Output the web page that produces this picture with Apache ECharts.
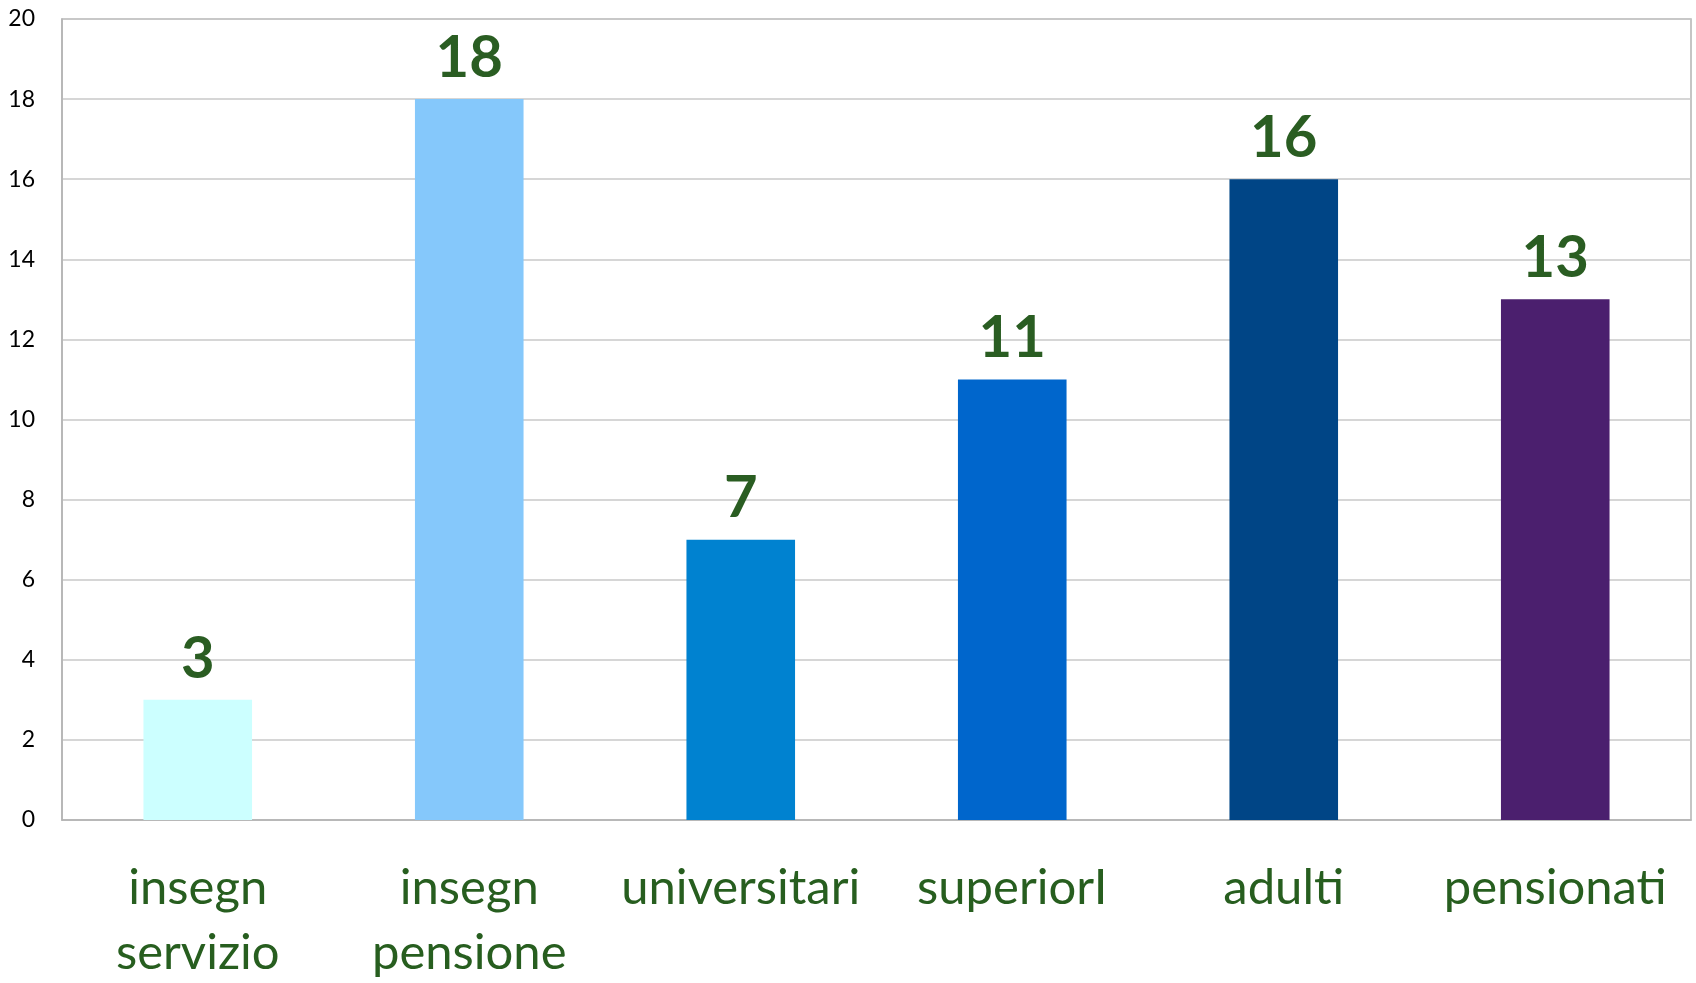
<!DOCTYPE html>
<html>
<head>
<meta charset="utf-8">
<script src="https://cdn.jsdelivr.net/npm/echarts@6/dist/echarts.min.js"></script>
<style>html,body{margin:0;padding:0;background:#fff}#c{width:1696px;height:983px}</style>
</head>
<body>
<div id="c"></div>
<script>
const categories = ['insegn\nservizio', 'insegn\npensione', 'universitari', 'superiorI', 'adulti', 'pensionati'];
const values = [3, 18, 7, 11, 16, 13];
const barColors = ['#ccffff', '#85c8fb', '#0082d0', '#0066cc', '#004586', '#4b1f6e'];
const yTicks = { min: 0, max: 20, interval: 2 };

const chart = echarts.init(document.getElementById('c'));
chart.setOption({
  animation: false,
  grid: { left: 62, right: 5, top: 19, bottom: 163, containLabel: false, outerBoundsMode: 'none', show: true, borderColor: '#b3b3b3', borderWidth: 1.5, backgroundColor: 'transparent' },
  xAxis: {
    type: 'category',
    data: categories,
    axisLine: { show: true, lineStyle: { color: '#b3b3b3', width: 1.5 } },
    axisTick: { show: false },
    axisLabel: { color: '#275e1f', fontFamily: 'Lato', fontSize: 49, lineHeight: 65, margin: 36, interval: 0 }
  },
  yAxis: {
    type: 'value',
    min: yTicks.min, max: yTicks.max, interval: yTicks.interval,
    axisLine: { show: true, lineStyle: { color: '#b3b3b3', width: 1.5 } },
    axisTick: { show: false },
    splitLine: { lineStyle: { color: '#c8c8c8', width: 1.5 } },
    axisLabel: { color: '#000', fontFamily: 'Lato', fontSize: 23, margin: 27 }
  },
  series: [{
    type: 'bar',
    data: values.map((v, i) => ({ value: v, itemStyle: { color: barColors[i] } })),
    barWidth: '40%',
    label: { show: true, position: 'top', distance: 12, color: '#2a5d22', fontFamily: 'Lato', fontWeight: 'bold', fontSize: 58, lineHeight: 58 }
  }]
});
</script>
</body>
</html>
